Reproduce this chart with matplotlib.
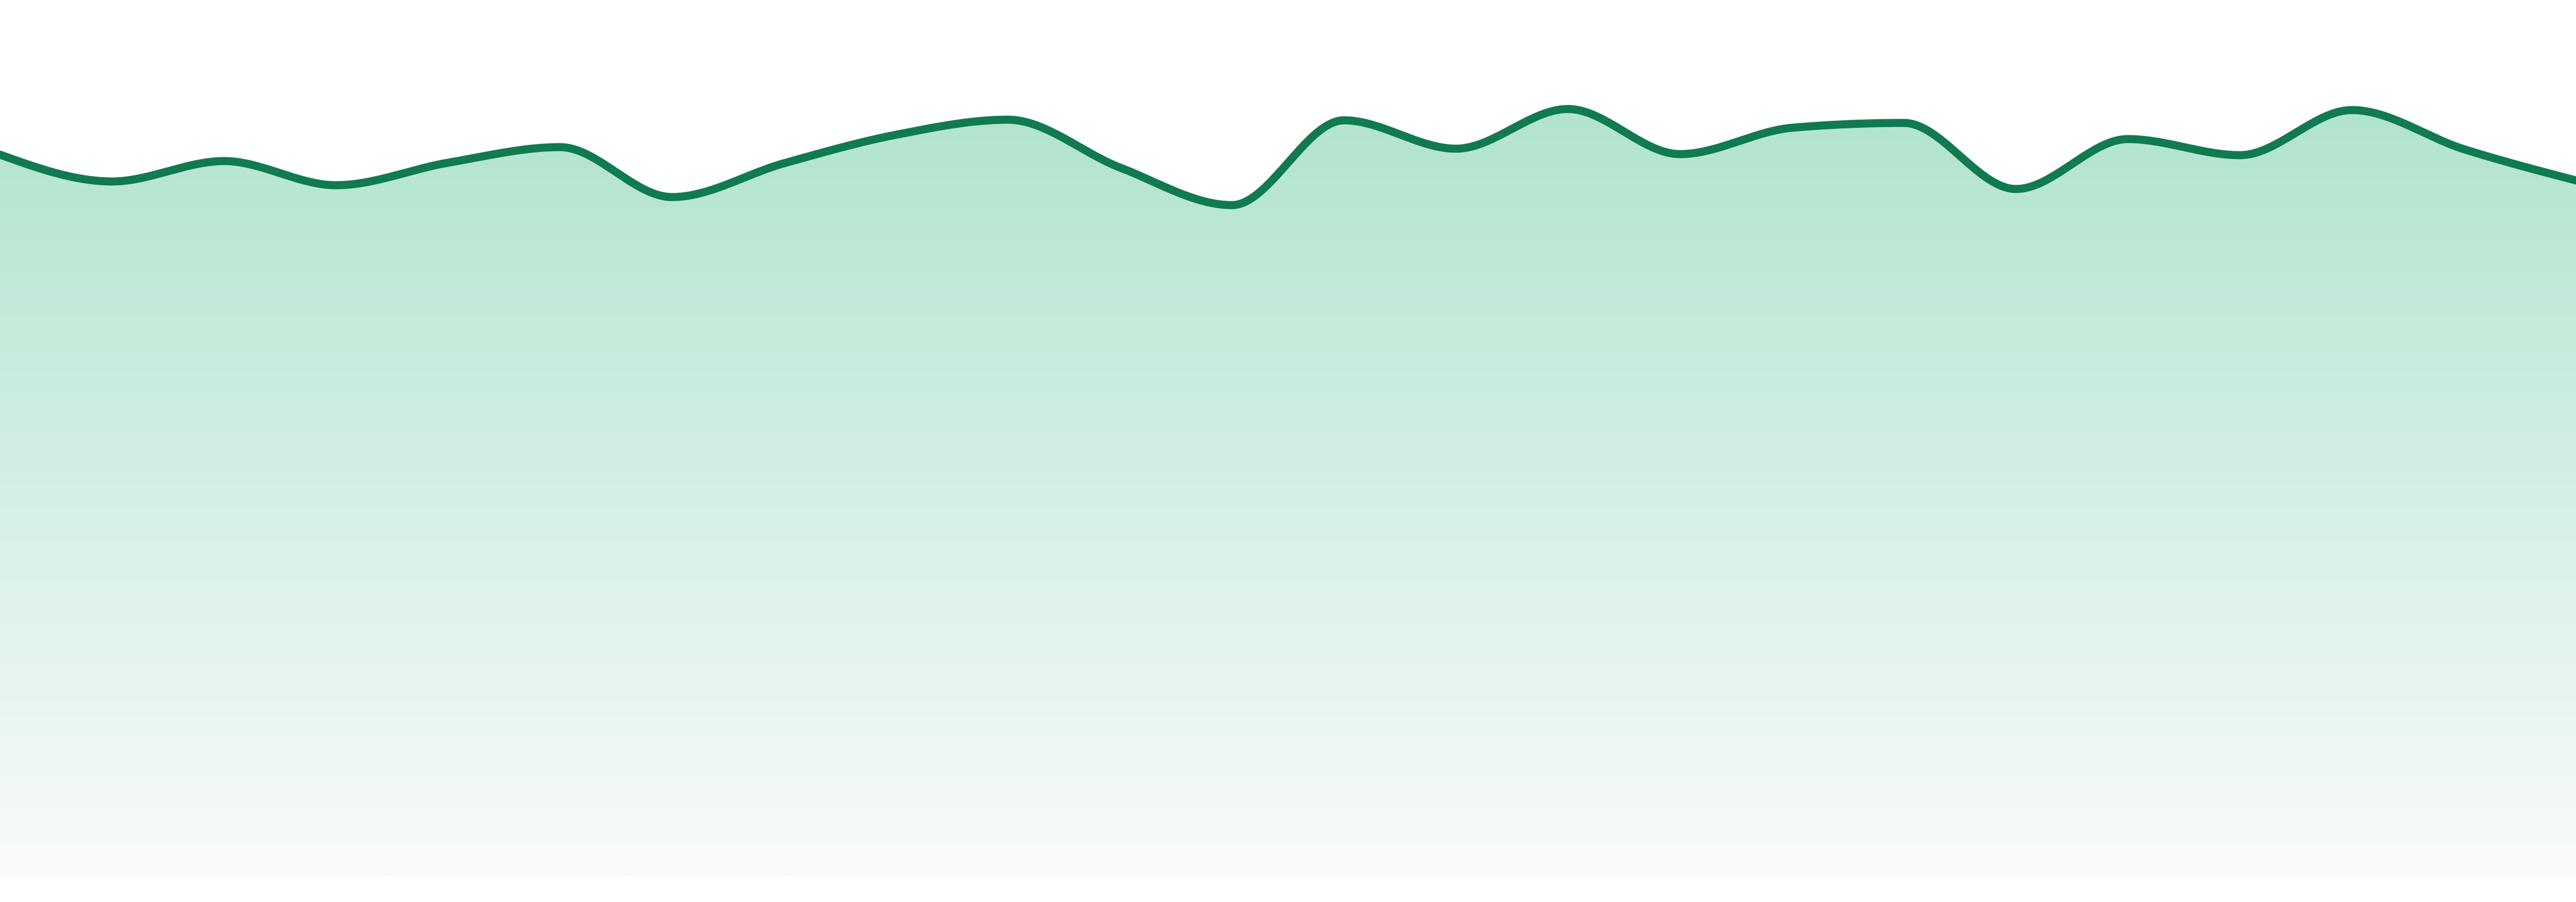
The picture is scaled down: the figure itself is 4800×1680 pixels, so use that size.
import numpy as np
import matplotlib
matplotlib.use('Agg')
import matplotlib.pyplot as plt
from matplotlib.colors import LinearSegmentedColormap

# 数据（24个点，数值按图读出）
idx = list(range(24))
values = [82.35, 79.29, 81.62, 78.86, 81.43, 83.21, 77.51, 81.37,
          84.62, 86.34, 80.88, 76.59, 86.27, 83.03, 87.56, 82.41,
          85.42, 85.97, 78.43, 84.13, 82.29, 87.44, 82.97, 79.41]

line_color = '#107a50'
fill_top = '#b0e4ce'
fill_bottom = '#f9fbfa'


# 单调三次插值（与 d3 curveMonotoneX 相同的斜率规则）
def monotone_x(x, y, n=40):
    x = np.asarray(x, dtype=float)
    y = np.asarray(y, dtype=float)
    h = np.diff(x)
    s = np.diff(y) / h
    m = np.zeros_like(y)
    for i in range(1, len(y) - 1):
        h0, h1 = h[i - 1], h[i]
        s0, s1 = s[i - 1], s[i]
        p = (s0 * h1 + s1 * h0) / (h0 + h1)
        m[i] = (np.sign(s0) + np.sign(s1)) * min(abs(s0), abs(s1), 0.5 * abs(p))
    m[0] = (3 * s[0] - m[1]) / 2 if len(y) > 2 else s[0]
    m[-1] = (3 * s[-1] - m[-2]) / 2 if len(y) > 2 else s[-1]
    xs, ys = [], []
    for i in range(len(x) - 1):
        t = np.linspace(0, 1, n, endpoint=False)
        dx = h[i]
        h00 = 2 * t ** 3 - 3 * t ** 2 + 1
        h10 = t ** 3 - 2 * t ** 2 + t
        h01 = -2 * t ** 3 + 3 * t ** 2
        h11 = t ** 3 - t ** 2
        xs.append(x[i] + t * dx)
        ys.append(h00 * y[i] + h10 * dx * m[i] + h01 * y[i + 1] + h11 * dx * m[i + 1])
    xs.append([x[-1]])
    ys.append([y[-1]])
    return np.concatenate(xs), np.concatenate(ys)


xs, ys = monotone_x(idx, values)

fig = plt.figure(figsize=(48, 16.8), dpi=100)
ax = fig.add_axes([0, 48 / 1680, 1, 1632 / 1680])
ax.set_xlim(idx[0], idx[-1])
ax.set_ylim(0, 100)
ax.axis('off')

# 渐变填充
area = ax.fill_between(xs, ys, 0, color='none', lw=0)
grad_top = 88.0
cmap = LinearSegmentedColormap.from_list('g', [fill_bottom, fill_top])
grad = np.linspace(0, 1, 512).reshape(-1, 1)
img = ax.imshow(grad, cmap=cmap, aspect='auto', origin='lower',
                extent=[idx[0], idx[-1], 0, grad_top], zorder=1)
path = area.get_paths()[0]
img.set_clip_path(path, transform=ax.transData)

ax.plot(xs, ys, color=line_color, lw=10.8, solid_capstyle='round',
        solid_joinstyle='round', zorder=3)

fig.savefig('out.png', dpi=100, facecolor='white')
